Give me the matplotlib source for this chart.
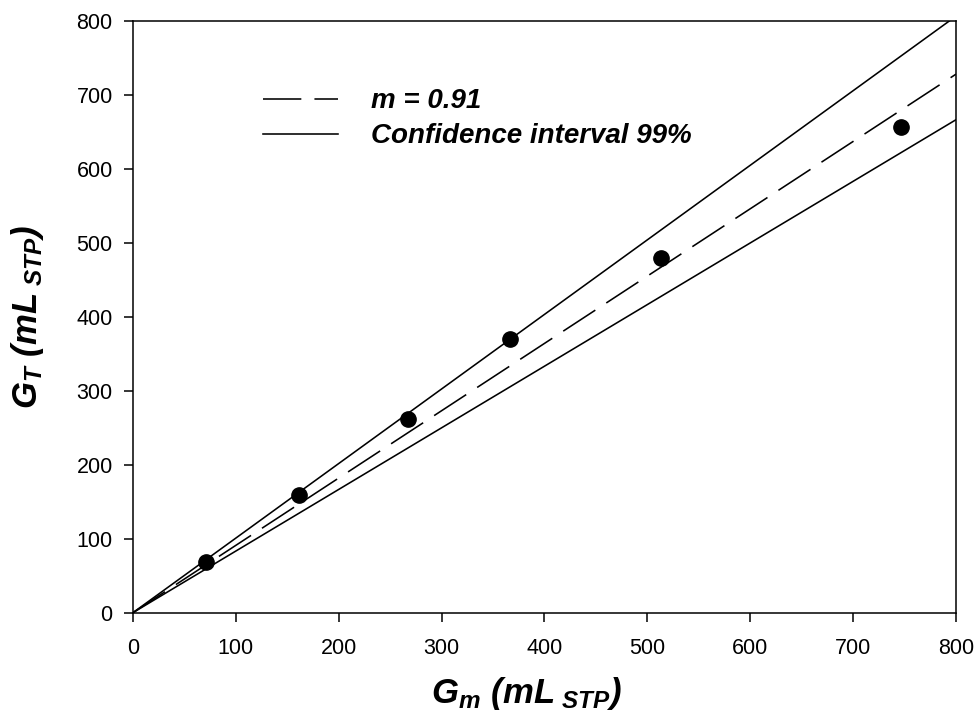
import numpy as np
import matplotlib
matplotlib.use("Agg")
import matplotlib.pyplot as plt

plt.rcParams['font.family'] = ['Liberation Sans', 'DejaVu Sans']
plt.rcParams['mathtext.fontset'] = 'custom'
plt.rcParams['mathtext.bfit'] = 'Liberation Sans:bold:italic'
plt.rcParams['mathtext.rm'] = 'Liberation Sans'
plt.rcParams['mathtext.it'] = 'Liberation Sans:italic'
plt.rcParams['mathtext.bf'] = 'Liberation Sans:bold'

# Measured vs. theoretical gas volumes (mL STP)
g_measured = [71, 161, 267, 367, 513, 747]
g_theoretical = [68, 159, 262, 370, 480, 657]

# Fitted slope and its 99 % confidence bounds
slope_fit = 0.91
slope_ci_low = 0.833
slope_ci_high = 1.008

x_range = [0, 800]
ticks = [0, 100, 200, 300, 400, 500, 600, 700, 800]

fig = plt.figure(figsize=(9.77, 7.2), dpi=100)
ax = fig.add_axes([0.136, 0.149, 0.8425, 0.822])

xr = np.array(x_range, dtype=float)
lw = 1.15
ax.plot(xr, slope_fit * xr, color='black', lw=lw,
        dashes=(24, 8.2), label='m = 0.91')
ax.plot(xr, slope_ci_high * xr, color='black', lw=lw,
        label='Confidence interval 99%')
ax.plot(xr, slope_ci_low * xr, color='black', lw=lw)
ax.plot(g_measured, g_theoretical, 'o', color='black', ms=11, zorder=5)

ax.set_xlim(x_range)
ax.set_ylim(x_range)
ax.set_xticks(ticks)
ax.set_yticks(ticks)
ax.tick_params(direction='out', length=6.5, width=1.1, labelsize=15.5,
               top=False, right=False)
ax.tick_params(axis='x', pad=12)
ax.tick_params(axis='y', pad=8)
for sp in ax.spines.values():
    sp.set_linewidth(1.1)

ax.set_xlabel(r'$\mathbfit{G_m\ (mL_{\ STP})}$', fontsize=25, labelpad=10)
ax.set_ylabel(r'$\mathbfit{G_T\ (mL_{\ STP})}$', fontsize=25, labelpad=22)
ax.xaxis.set_label_coords(0.478, -0.105)

legend_font = {'family': 'Liberation Sans', 'weight': 'bold',
               'style': 'italic', 'size': 20}
leg = ax.legend(loc='upper left', bbox_to_anchor=(0.158, 0.886),
                frameon=False, prop=legend_font, handlelength=2.7,
                handletextpad=1.2, borderpad=0, borderaxespad=0,
                labelspacing=0.32)

fig.savefig('out.png', dpi=100)
